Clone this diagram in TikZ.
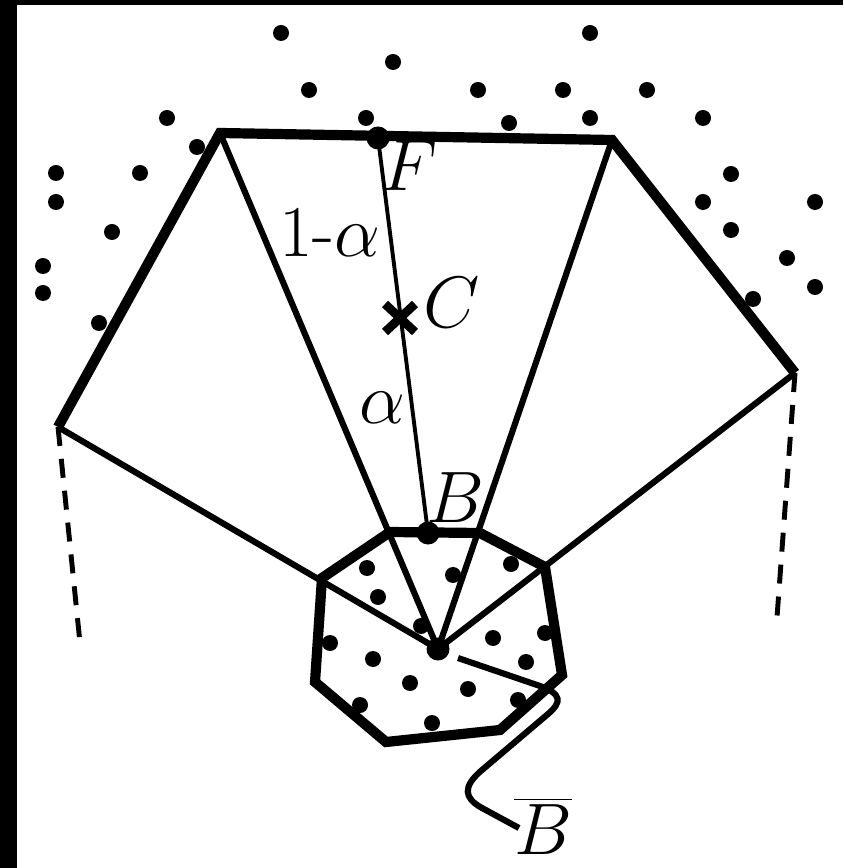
\documentclass[tikz,border=0pt]{standalone}
\usetikzlibrary{positioning}

\begin{document}
\begin{tikzpicture}[
    x=0.01cm, y=-0.01cm,
    heavy/.style={line width=2.9pt, line join=miter},
    thinline/.style={line width=1.75pt},
    ray/.style={line width=1.1pt},
    dashline/.style={line width=1.4pt, dash pattern=on 0.19cm off 0.13cm},
    bigdot/.style={circle, fill, inner sep=0pt, minimum size=0.23cm},
    lbl/.style={font=\fontsize{20.74}{25}\selectfont, inner sep=0pt},
]
\useasboundingbox (0,0) rectangle (843,868);
\fill (0,0) rectangle (17,868);
\fill (0,0) rectangle (843,5);

\coordinate (L1) at (58,427);
\coordinate (L2) at (220,133);
\coordinate (R2) at (612,140);
\coordinate (R1) at (795,373);
\coordinate (L1end) at (80,643);
\coordinate (R1end) at (777,617);
\coordinate (C) at (400,318);

\node[bigdot] (G) at (438,649) {};
\node[bigdot] (F) at (378,138) {};
\node[bigdot] (B) at (428,533) {};

\draw[heavy] (L1) -- (L2) -- (R2) -- (R1);
\draw[thinline] (G.center) -- (L1);
\draw[thinline] (G.center) -- (L2);
\draw[thinline] (G.center) -- (R2);
\draw[thinline] (G.center) -- (R1);
\draw[dashline] (L1) -- (L1end);
\draw[dashline] (R1) -- (R1end);
\draw[ray] (F.center) -- (B.center);

\draw[heavy] (390,532) -- (480,533) -- (545,567) -- (562,675) -- (500,730) -- (386,742) -- (315,682) -- (322,578) -- cycle;

\draw[line width=2.5pt] (C) ++(-15,-14) -- ++(30,28) (C) ++(-15,14) -- ++(30,-28);

\foreach \p in {(281,33),(393,62),(309,90),(167,118),(366,118),(197,147),(56,173),(140,173),
                (56,202),(112,232),(43,266),(43,293),(99,323),
                (590,33),(478,90),(563,90),(647,90),(509,123),(590,118),(703,118),(731,174),
                (703,202),(815,202),(731,230),(787,258),(815,287),(753,299),
                (367,568),(378,597),(453,575),(511,564),(421,626),(330,643),(373,659),(493,638),
                (545,633),(526,662),(410,683),(468,689),(518,700),(360,705),(432,723)}
    \fill \p circle[radius=8];

\draw[thinline] (458,658) -- (540,686) .. controls (562,694) and (562,702) .. (548,714)
    -- (482,770) .. controls (462,787) and (464,798) .. (482,808) -- (519,828);

\node[lbl] (Flbl) at (410,166) {$F$};
\node[lbl] (Clbl) at (452,303) {$C$};
\node[lbl] (Blbl) at (455,498) {$B$};
\node[lbl] (alphalbl) at (382,408) {$\alpha$};
\node[lbl] (onelbl) at (330,232) {1-$\alpha$};
\node[lbl] (Bbarlbl) at (543,826) {$\overline{B}$};
\end{tikzpicture}
\end{document}
